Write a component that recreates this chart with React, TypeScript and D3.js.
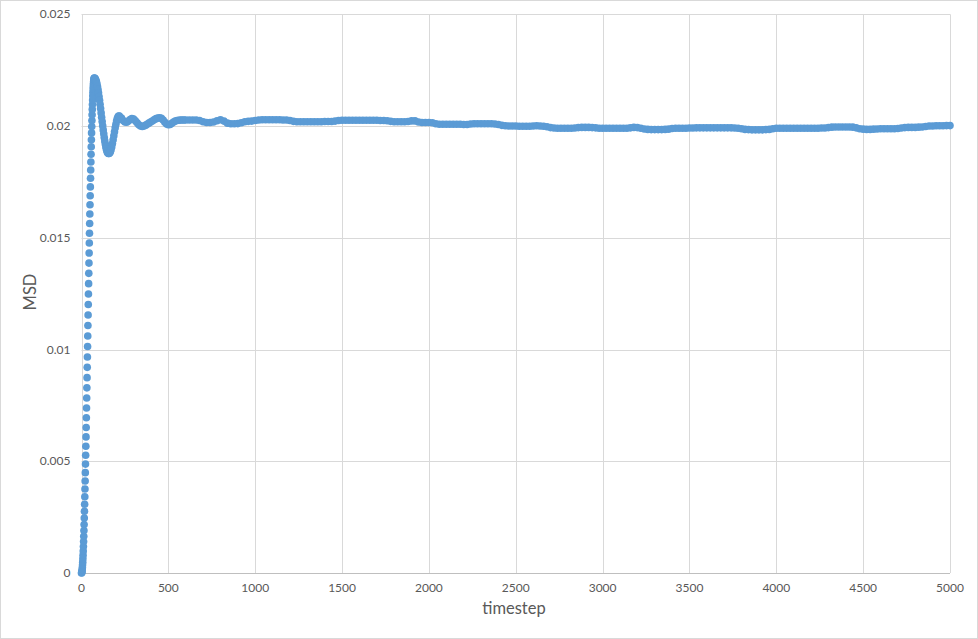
import * as d3 from "d3";
import { useEffect, useRef } from "react";

// MSD during the first rise, one point per timestep (t = 0..74)
const riseMsd = [
  0, 0.00001, 0.00004, 0.00009, 0.000159, 0.000249, 0.000357, 0.000486, 0.000633, 0.000799,
  0.000983, 0.001186, 0.001406, 0.001644, 0.001899, 0.002171, 0.002458, 0.002761, 0.003079, 0.003412,
  0.003758, 0.004118, 0.00449, 0.004873, 0.005268, 0.005674, 0.006089, 0.006513, 0.006946, 0.007386,
  0.007832, 0.008284, 0.008742, 0.009203, 0.009668, 0.010136, 0.010605, 0.011075, 0.011545, 0.012014,
  0.012482, 0.012947, 0.013408, 0.013866, 0.014318, 0.014765, 0.015204, 0.015637, 0.016061, 0.016476,
  0.016882, 0.017277, 0.017661, 0.018033, 0.018392, 0.018738, 0.019071, 0.019389, 0.019692, 0.019979,
  0.020251, 0.020506, 0.020744, 0.020964, 0.021167, 0.021351, 0.021517, 0.021665, 0.021793, 0.021901,
  0.021991, 0.02206, 0.02211, 0.02214, 0.02215,
];

// fall after the peak (t = 77..158, every 3 steps)
const fallMsd = [
  0.022139, 0.022106, 0.022051, 0.021975, 0.021879, 0.021764, 0.021632, 0.021485, 0.021324, 0.021152,
  0.02097, 0.020782, 0.020589, 0.020395, 0.020202, 0.020012, 0.019828, 0.019652, 0.019487, 0.019334,
  0.019197, 0.019077, 0.018975, 0.018894, 0.01883, 0.01879, 0.018771, 0.01877,
];

// recovery (t = 162..218, every 4 steps)
const recoverMsd = [
  0.01879, 0.018848, 0.018941, 0.019066, 0.019217, 0.019385, 0.019565, 0.019746, 0.019921, 0.020082,
  0.02022, 0.02033, 0.020408, 0.020445, 0.02045,
];

// damped ringing (t = 230..600, every 10 steps)
const ringMsd = [
  0.02036, 0.02025, 0.02018, 0.02017, 0.02022, 0.02029, 0.02033, 0.02031, 0.02024, 0.02015,
  0.02006, 0.02, 0.01998, 0.02, 0.02004, 0.02009, 0.02014, 0.02019, 0.02024, 0.02029,
  0.02033, 0.02036, 0.02037, 0.02035, 0.02027, 0.02017, 0.02009, 0.02006, 0.02007, 0.02012,
  0.02018, 0.02022, 0.02025, 0.02026, 0.02027, 0.02027, 0.02027, 0.02027,
];

// plateau (t = 620..5000, every 20 steps), one row per 200 timesteps
const plateauMsd = [
  0.02027, 0.02027, 0.02027, 0.02025, 0.02019, 0.02016, 0.02016, 0.02018, 0.02024, 0.02028,
  0.02022, 0.02013, 0.0201, 0.0201, 0.02011, 0.02015, 0.02019, 0.02021, 0.02022, 0.02025,
  0.02027, 0.02028, 0.02028, 0.02028, 0.02028, 0.02028, 0.02028, 0.02027, 0.02027, 0.02025,
  0.02021, 0.02019, 0.02019, 0.02019, 0.02019, 0.02019, 0.02019, 0.02019, 0.02019, 0.0202,
  0.0202, 0.0202, 0.02022, 0.02025, 0.02026, 0.02026, 0.02026, 0.02026, 0.02026, 0.02026,
  0.02026, 0.02026, 0.02026, 0.02026, 0.02026, 0.02025, 0.02025, 0.02024, 0.02021, 0.02019,
  0.02019, 0.02019, 0.02019, 0.0202, 0.02023, 0.02023, 0.02018, 0.02016, 0.02016, 0.02016,
  0.02015, 0.0201, 0.02008, 0.02008, 0.02008, 0.02008, 0.02008, 0.02008, 0.02008, 0.02007,
  0.02007, 0.02009, 0.0201, 0.0201, 0.0201, 0.0201, 0.0201, 0.0201, 0.02009, 0.02007,
  0.02003, 0.02001, 0.02, 0.02, 0.02, 0.01999, 0.01999, 0.01999, 0.01999, 0.02,
  0.02001, 0.02, 0.01999, 0.01997, 0.01993, 0.01991, 0.0199, 0.0199, 0.0199, 0.0199,
  0.0199, 0.01991, 0.01993, 0.01994, 0.01994, 0.01994, 0.01993, 0.01992, 0.0199, 0.0199,
  0.0199, 0.0199, 0.0199, 0.0199, 0.0199, 0.0199, 0.0199, 0.01992, 0.01994, 0.01993,
  0.0199, 0.01987, 0.01985, 0.01984, 0.01984, 0.01984, 0.01984, 0.01985, 0.01986, 0.01989,
  0.0199, 0.0199, 0.0199, 0.0199, 0.01991, 0.01991, 0.01992, 0.01992, 0.01992, 0.01992,
  0.01992, 0.01992, 0.01992, 0.01992, 0.01992, 0.01992, 0.01992, 0.01991, 0.0199, 0.01988,
  0.01985, 0.01984, 0.01983, 0.01983, 0.01983, 0.01983, 0.01984, 0.01985, 0.01988, 0.0199,
  0.0199, 0.0199, 0.0199, 0.0199, 0.0199, 0.0199, 0.0199, 0.0199, 0.0199, 0.0199,
  0.0199, 0.0199, 0.01991, 0.01991, 0.01993, 0.01995, 0.01996, 0.01996, 0.01996, 0.01996,
  0.01996, 0.01995, 0.01992, 0.01988, 0.01986, 0.01985, 0.01985, 0.01986, 0.01987, 0.01988,
  0.01988, 0.01988, 0.01988, 0.01988, 0.01989, 0.01991, 0.01993, 0.01994, 0.01994, 0.01994,
  0.01995, 0.01996, 0.01998, 0.02, 0.02, 0.02001, 0.02001, 0.02001, 0.02002, 0.02002,
];

const segments = [
  { start: 0, step: 1, values: riseMsd },
  { start: 77, step: 3, values: fallMsd },
  { start: 162, step: 4, values: recoverMsd },
  { start: 230, step: 10, values: ringMsd },
  { start: 620, step: 20, values: plateauMsd },
];

const xTicks = [0, 500, 1000, 1500, 2000, 2500, 3000, 3500, 4000, 4500, 5000];
const yTicks = [0, 0.005, 0.01, 0.015, 0.02, 0.025];

export default function App() {
  const ref = useRef<SVGSVGElement>(null);

  useEffect(() => {
    if (!ref.current) return;
    const el = ref.current;
    d3.select(el).selectAll("*").remove();

    const W = 978;
    const H = 639;
    const font = "Lato, 'Open Sans', sans-serif";
    const grid = "#d9d9d9";
    const labelColor = "#595959";

    const points = segments.flatMap(s => s.values.map((v, i) => ({ t: s.start + i * s.step, msd: v })));

    const x = d3.scaleLinear().domain([0, 5000]).range([81.5, 950]);
    const y = d3.scaleLinear().domain([0, 0.025]).range([573, 14.3]);

    const svg = d3.select(el).attr("width", W).attr("height", H).attr("viewBox", `0 0 ${W} ${H}`);

    svg.append("rect").attr("x", 0.5).attr("y", 0.5).attr("width", W - 1).attr("height", H - 1)
      .attr("fill", "#fff").attr("stroke", grid);

    // gridlines
    svg.append("g").selectAll("line").data(yTicks.filter(d => d > 0)).join("line")
      .attr("x1", x(0)).attr("x2", x(5000))
      .attr("y1", d => Math.round(y(d)) + 0.5).attr("y2", d => Math.round(y(d)) + 0.5)
      .attr("stroke", grid);
    svg.append("g").selectAll("line").data(xTicks).join("line")
      .attr("x1", d => Math.round(x(d)) + 0.5).attr("x2", d => Math.round(x(d)) + 0.5)
      .attr("y1", y(0.025)).attr("y2", y(0))
      .attr("stroke", grid);

    // x axis line
    svg.append("line").attr("x1", x(0)).attr("x2", x(5000))
      .attr("y1", Math.round(y(0)) + 0.5).attr("y2", Math.round(y(0)) + 0.5)
      .attr("stroke", "#bfbfbf");

    // tick labels
    svg.append("g").selectAll("text").data(yTicks).join("text")
      .attr("x", 70.5).attr("y", d => y(d) + 4)
      .attr("text-anchor", "end").attr("font-family", font).attr("font-size", 12)
      .attr("fill", labelColor).text(d => String(d));
    svg.append("g").selectAll("text").data(xTicks).join("text")
      .attr("x", d => x(d)).attr("y", 592)
      .attr("text-anchor", "middle").attr("font-family", font).attr("font-size", 12)
      .attr("fill", labelColor).text(d => String(d));

    // axis titles
    svg.append("text").attr("x", 514).attr("y", 614).attr("text-anchor", "middle")
      .attr("font-family", font).attr("font-size", 16.5).attr("fill", labelColor).text("timestep");
    svg.append("text").attr("transform", "translate(36,292) rotate(-90)").attr("text-anchor", "middle")
      .attr("font-family", font).attr("font-size", 16.5).attr("fill", labelColor).text("MSD");

    // markers
    svg.append("g").selectAll("circle").data(points).join("circle")
      .attr("cx", d => x(d.t)).attr("cy", d => y(d.msd)).attr("r", 3.8)
      .attr("fill", "#5b9bd5");
  }, []);

  return (
    <div style={{ position: "absolute", left: 0, top: 0 }}>
      <svg ref={ref} style={{ display: "block" }} />
    </div>
  );
}
